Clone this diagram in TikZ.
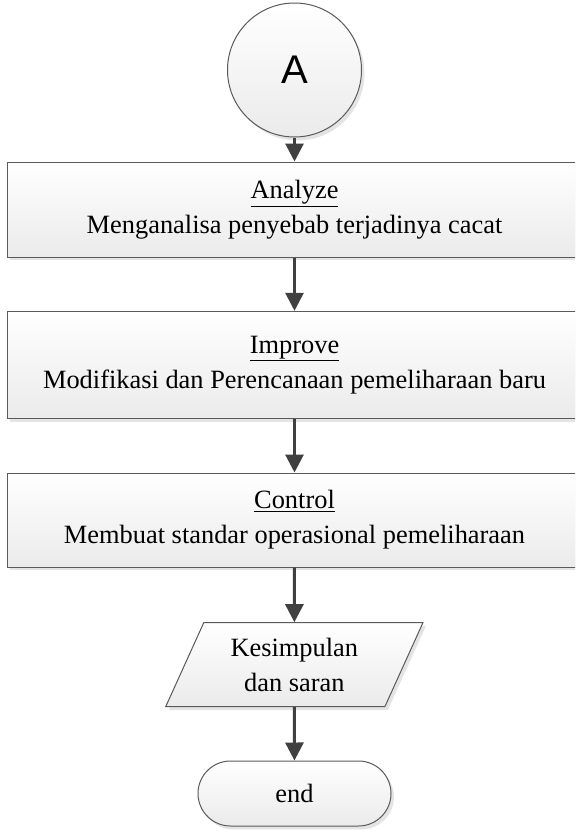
\documentclass[tikz,border=0pt]{standalone}
\usepackage{fontspec}
\setmainfont{Liberation Serif}
\newfontfamily\sansA{Liberation Sans}
\usetikzlibrary{arrows.meta,shapes.geometric,shapes.misc,shadows}
\definecolor{edgec}{HTML}{5A5A5A}
\definecolor{arrowc}{HTML}{404040}
\tikzset{
  shapebase/.style={draw=edgec, line width=0.75pt, top color=white, bottom color=gray!16,
    drop shadow={shadow xshift=2.2pt, shadow yshift=-2.6pt, fill=gray!35, opacity=0.6}},
  txt/.style={font=\fontsize{19.8}{26.3}\selectfont, align=center},
  stepbox/.style={shapebase, txt, rectangle, minimum width=431.25pt, inner sep=0pt},
  conn/.style={draw=arrowc, line width=2.2pt, -{Triangle[width=13.5pt,length=13.5pt]}},
}
\begin{document}
\begin{tikzpicture}[x=0.75pt,y=-0.75pt]
\useasboundingbox (0,0) rectangle (575,832);
\clip (0,0) rectangle (575,832);
\fill[white] (0,0) rectangle (575,832);
\node[shapebase, circle, minimum size=100.5pt, inner sep=0pt, font=\sansA\fontsize{30}{36}\selectfont] (A) at (294.5,70) {A};
\node[stepbox, minimum height=71.25pt] (an) at (294.5,209.5) {\underline{Analyze}\\Menganalisa penyebab terjadinya cacat};
\node[stepbox, minimum height=80.25pt] (im) at (294.5,364.75) {\underline{Improve}\\Modifikasi dan Perencanaan pemeliharaan baru};
\node[stepbox, minimum height=70.5pt] (co) at (294.5,520) {\underline{Control}\\Membuat standar operasional pemeliharaan};
\node[shapebase, txt, trapezium, trapezium left angle=63.43, trapezium right angle=116.57,
  trapezium stretches=true, minimum width=193pt, minimum height=63pt, inner sep=0pt] (ks) at (294.3,664.7) {Kesimpulan\\dan saran};
\node[shapebase, txt, rounded rectangle, minimum width=144.75pt, minimum height=48.75pt, inner sep=0pt] (en) at (294.5,793.5) {end};
\draw[conn] (A) -- (an);
\draw[conn] (an) -- (im);
\draw[conn] (im) -- (co);
\draw[conn] (co) -- (ks);
\draw[conn] (ks) -- (en);
\end{tikzpicture}
\end{document}
